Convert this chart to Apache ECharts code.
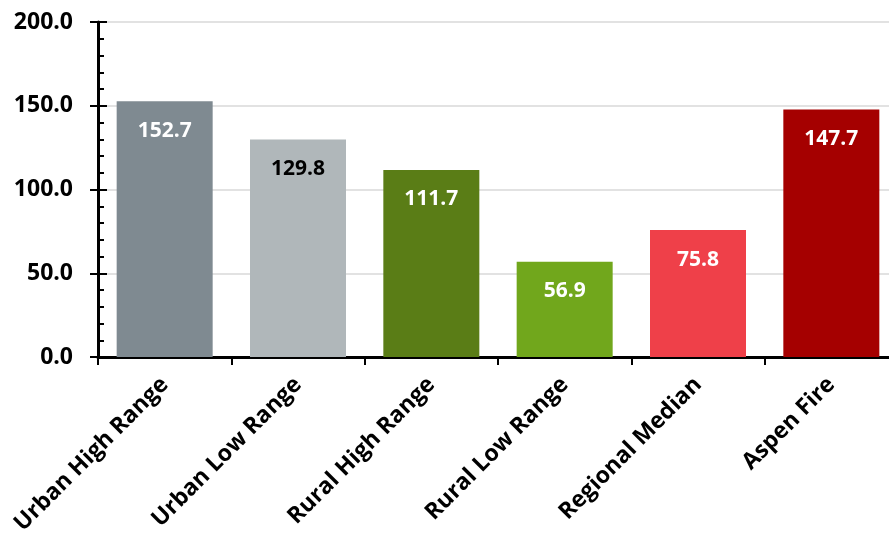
<!DOCTYPE html>
<html>
<head>
<meta charset="utf-8">
<script src="https://cdn.jsdelivr.net/npm/echarts@6/dist/echarts.min.js"></script>
<style>
  html, body { margin: 0; padding: 0; background: #fff; }
  #chart { width: 889px; height: 540px; }
</style>
</head>
<body>
<div id="chart"></div>
<script>
// Categories and values
const categories = ['Urban High Range', 'Urban Low Range', 'Rural High Range', 'Rural Low Range', 'Regional Median', 'Aspen Fire'];
const values = [152.7, 129.8, 111.7, 56.9, 75.8, 147.7];
const barColors = ['#7F8A91', '#B0B7BA', '#5A7D16', '#71A71C', '#EF4049', '#A50000'];
const labelColors = ['#FFFFFF', '#000000', '#FFFFFF', '#FFFFFF', '#FFFFFF', '#FFFFFF'];
const yTicks = [0, 50, 100, 150, 200];

const FONT = '"Open Sans", "Noto Sans", sans-serif';

const chart = echarts.init(document.getElementById('chart'), null, { renderer: 'canvas' });

chart.setOption({
  animation: false,
  backgroundColor: '#ffffff',
  grid: { left: 98, top: 22, width: 800, bottom: 183, containLabel: false, outerBoundsMode: 'none' },
  xAxis: {
    type: 'category',
    data: categories,
    axisLine: { lineStyle: { color: '#000', width: 3 } },
    axisTick: { show: true, length: 8, lineStyle: { color: '#000', width: 2 } },
    axisLabel: {
      rotate: 45,
      interval: 0,
      margin: 24,
      color: '#000',
      fontFamily: FONT,
      fontWeight: 'bold',
      fontSize: 23
    },
    splitLine: { show: false }
  },
  yAxis: [
    {
      type: 'value',
      min: yTicks[0],
      max: yTicks[yTicks.length - 1],
      interval: 50,
      axisLine: { show: true, lineStyle: { color: '#000', width: 3 } },
      axisTick: { show: true, inside: false, length: 8, lineStyle: { color: '#000', width: 2 } },
      axisLabel: {
        margin: 25,
        color: '#000',
        fontFamily: FONT,
        fontWeight: 'bold',
        fontSize: 23,
        formatter: v => v.toFixed(1)
      },
      splitLine: { show: true, lineStyle: { color: '#D9D9D9', width: 1.5 } }
    },
    {
      // inner half of the crossing major ticks plus the minor ticks
      type: 'value',
      position: 'left',
      min: yTicks[0],
      max: yTicks[yTicks.length - 1],
      interval: 50,
      axisLine: { show: false },
      axisTick: { show: true, inside: true, length: 9, lineStyle: { color: '#000', width: 2 } },
      minorTick: { show: true, splitNumber: 5, length: 6, lineStyle: { color: '#000', width: 2 } },
      axisLabel: { show: false },
      splitLine: { show: false }
    }
  ],
  series: [{
    type: 'bar',
    yAxisIndex: 0,
    barCategoryGap: '28%',
    data: values.map((v, i) => ({
      value: v,
      itemStyle: { color: barColors[i] },
      label: { color: labelColors[i] }
    })),
    label: {
      show: true,
      position: 'insideTop',
      distance: 19,
      fontFamily: FONT,
      fontWeight: 'bold',
      fontSize: 21,
      formatter: p => p.value.toFixed(1)
    }
  }]
});
</script>
</body>
</html>
